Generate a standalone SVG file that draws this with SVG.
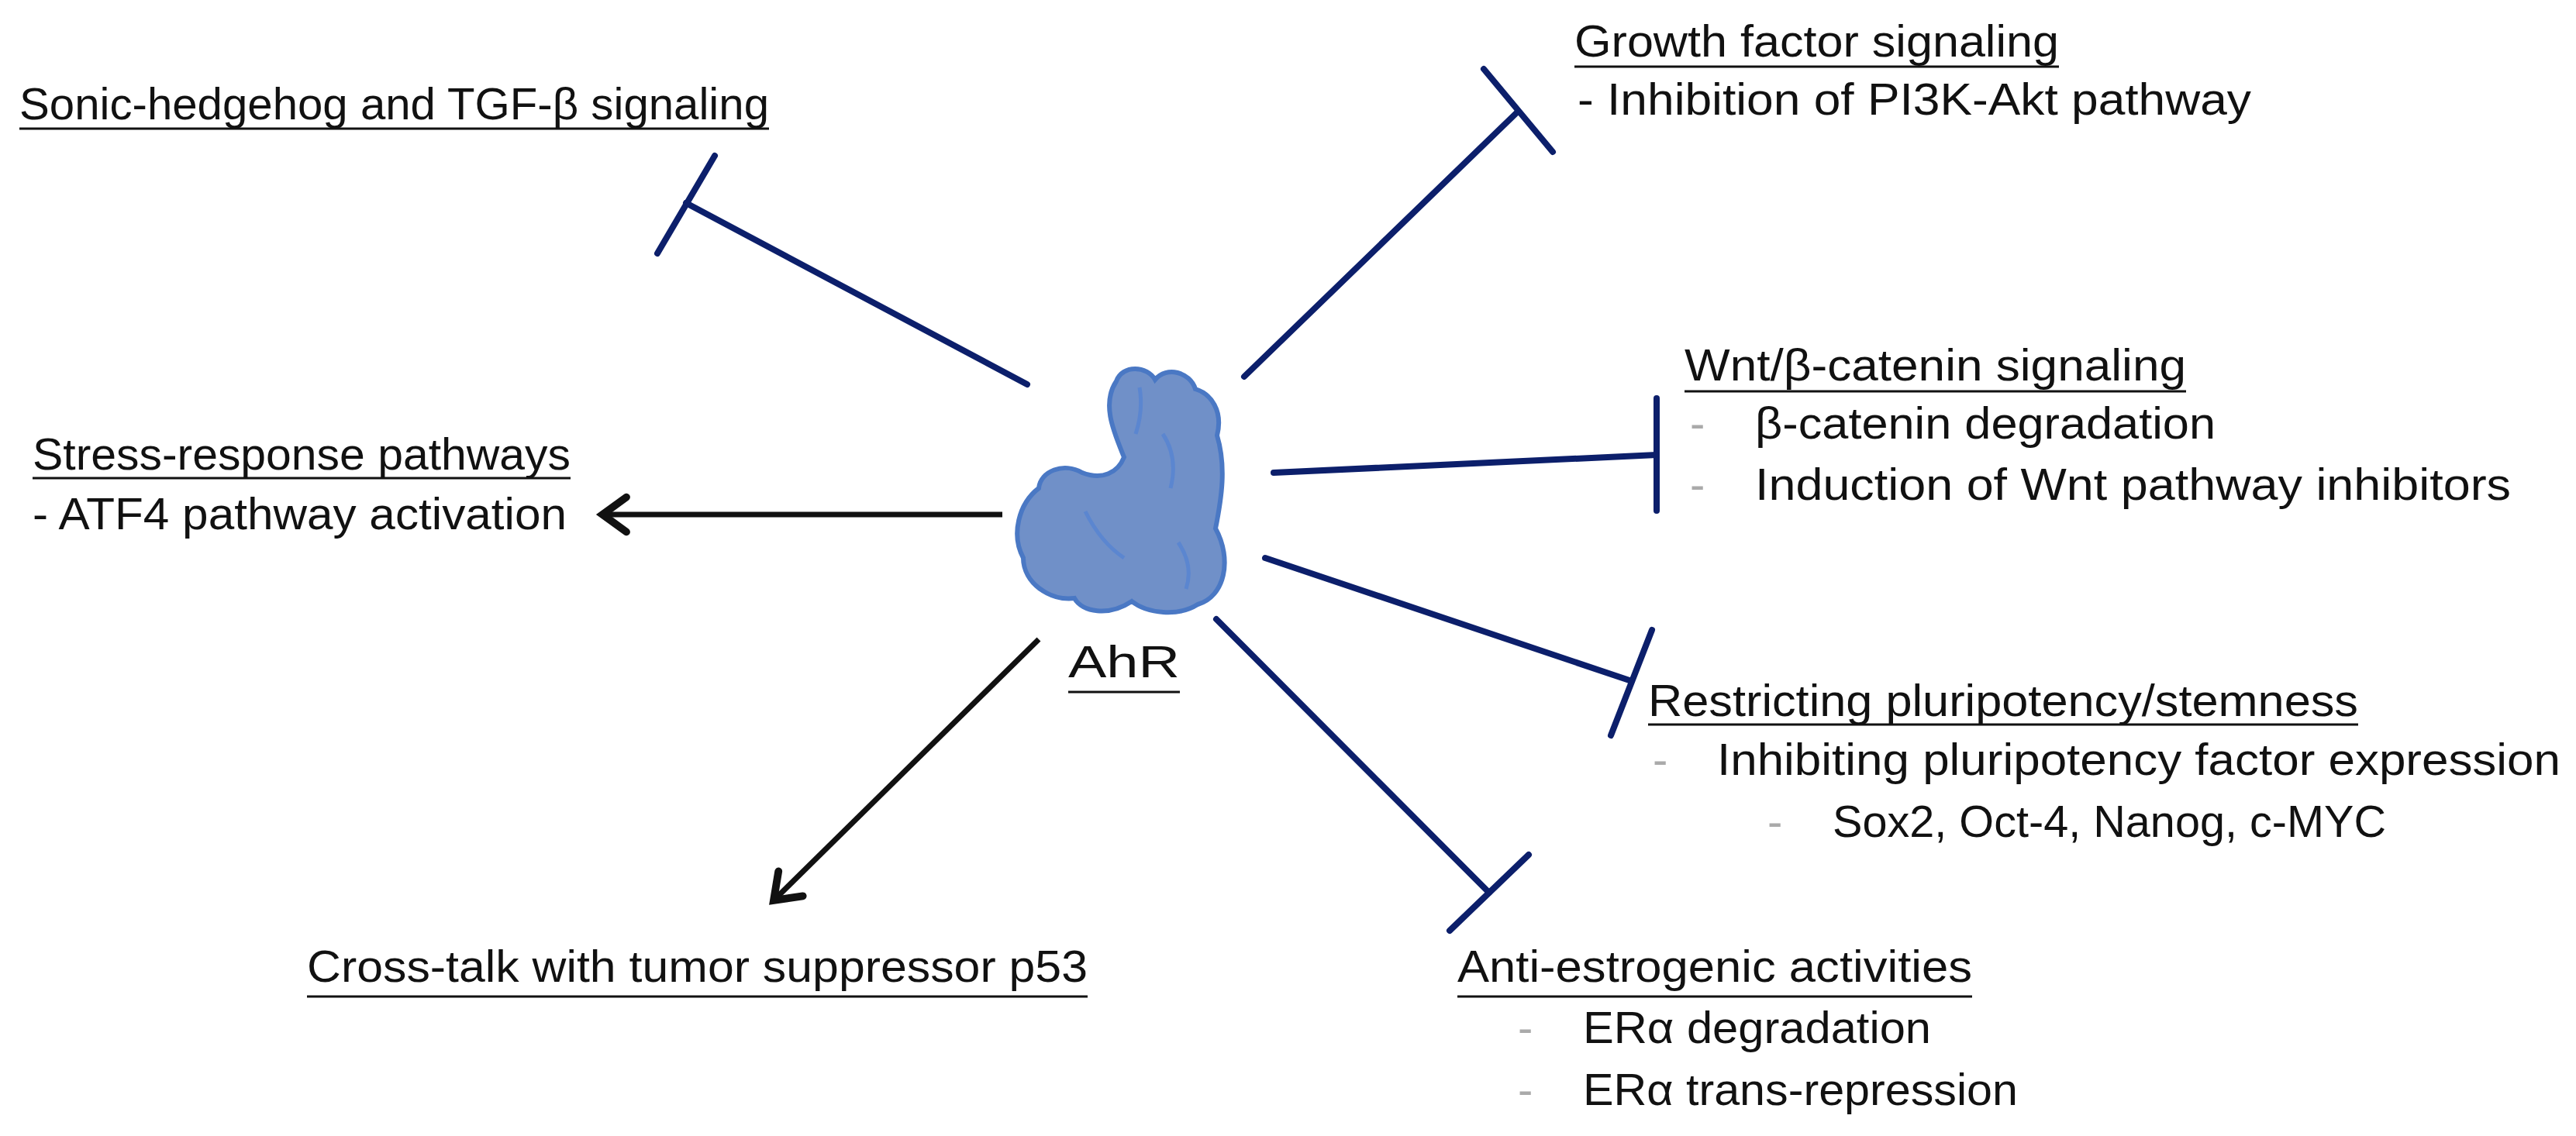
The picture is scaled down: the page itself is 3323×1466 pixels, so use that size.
<svg xmlns="http://www.w3.org/2000/svg" width="3323" height="1466" viewBox="0 0 3323 1466">
<style>
text{font-family:"Liberation Sans",Arial,sans-serif;font-size:58px;fill:#111}
.u{stroke:#111;stroke-width:3}
.inh{stroke:#0c1f6b;stroke-width:8;stroke-linecap:round;fill:none}
.act{stroke:#111;stroke-width:7;fill:none}
.d{fill:#aaa}
</style>
<defs>
<marker id="ah" viewBox="0 0 20 20" refX="13" refY="10" markerWidth="8" markerHeight="8" markerUnits="strokeWidth" orient="auto">
<path d="M3 2 L14 10 L3 18" fill="none" stroke="#111" stroke-width="3.5" stroke-linecap="round"/>
</marker>
</defs>
<rect width="3323" height="1466" fill="#fff"/>
<g id="connectors">
<line class="inh" x1="1325" y1="496" x2="885" y2="262"/><line class="inh" x1="922" y1="201" x2="848" y2="327"/>
<line class="inh" x1="1605" y1="486" x2="1958" y2="144"/><line class="inh" x1="1914" y1="89" x2="2003" y2="196"/>
<line class="inh" x1="1643" y1="610" x2="2137" y2="587"/><line class="inh" x1="2137" y1="514" x2="2137" y2="659"/>
<line class="inh" x1="1632" y1="720" x2="2105" y2="879"/><line class="inh" x1="2131" y1="813" x2="2078" y2="949"/>
<line class="inh" x1="1569" y1="799" x2="1921" y2="1152"/><line class="inh" x1="1972" y1="1103" x2="1870" y2="1201"/>
<line class="act" x1="1293" y1="664" x2="780" y2="664" marker-end="url(#ah)"/>
<line class="act" x1="1340" y1="825" x2="1000" y2="1160" marker-end="url(#ah)"/>
</g>
<g id="ahr">
<path d="M1440 492 C1448 470,1480 472,1490 490 C1505 472,1535 480,1542 502 C1562 508,1578 530,1570 562 C1582 602,1576 642,1568 682 C1590 722,1580 770,1545 780 C1520 796,1480 792,1460 776 C1430 796,1396 790,1386 772 C1354 776,1320 752,1320 720 C1304 690,1314 650,1340 630 C1342 608,1372 596,1396 610 C1422 620,1442 610,1450 590 C1438 560,1420 522,1440 492 Z" fill="#7090c8" stroke="#4a78c4" stroke-width="6"/>
<path d="M1470 500 Q1475 530 1465 560 M1500 560 Q1520 590 1510 630 M1400 660 Q1420 700 1450 720 M1520 700 Q1540 730 1530 760" stroke="#5b86d0" stroke-width="5" fill="none"/>
<text x="1378" y="874" font-size="78" textLength="144" lengthAdjust="spacingAndGlyphs">AhR</text>
<line class="u" x1="1378" y1="893" x2="1522" y2="893"/>
</g>
<g id="sonic">
<text x="25" y="154" textLength="967" lengthAdjust="spacingAndGlyphs">Sonic-hedgehog and TGF-β signaling</text>
<line class="u" x1="25" y1="166" x2="992" y2="166"/>
</g>
<g id="growth">
<text x="2031" y="73" textLength="625" lengthAdjust="spacingAndGlyphs">Growth factor signaling</text>
<line class="u" x1="2031" y1="86" x2="2656" y2="86"/>
<text x="2035" y="148" textLength="869" lengthAdjust="spacingAndGlyphs">-  Inhibition of PI3K-Akt pathway</text>
</g>
<g id="wnt">
<text x="2173" y="491" textLength="647" lengthAdjust="spacingAndGlyphs">Wnt/β-catenin signaling</text>
<line class="u" x1="2173" y1="505" x2="2820" y2="505"/>
<text class="d" x="2180" y="566">-</text>
<text x="2264" y="566" textLength="594" lengthAdjust="spacingAndGlyphs">β-catenin degradation</text>
<text class="d" x="2180" y="645">-</text>
<text x="2264" y="645" textLength="975" lengthAdjust="spacingAndGlyphs">Induction of Wnt pathway inhibitors</text>
</g>
<g id="stress">
<text x="42" y="606" textLength="694" lengthAdjust="spacingAndGlyphs">Stress-response pathways</text>
<line class="u" x1="42" y1="617" x2="736" y2="617"/>
<text x="42" y="683" textLength="689" lengthAdjust="spacingAndGlyphs">- ATF4 pathway activation</text>
</g>
<g id="restricting">
<text x="2126" y="924" textLength="916" lengthAdjust="spacingAndGlyphs">Restricting pluripotency/stemness</text>
<line class="u" x1="2126" y1="935" x2="3042" y2="935"/>
<text class="d" x="2132" y="1000">-</text>
<text x="2215" y="1000" textLength="1088" lengthAdjust="spacingAndGlyphs">Inhibiting pluripotency factor expression</text>
<text class="d" x="2280" y="1080">-</text>
<text x="2364" y="1080" textLength="714" lengthAdjust="spacingAndGlyphs">Sox2, Oct-4, Nanog, c-MYC</text>
</g>
<g id="anti">
<text x="1880" y="1267" textLength="664" lengthAdjust="spacingAndGlyphs">Anti-estrogenic activities</text>
<line class="u" x1="1880" y1="1286" x2="2544" y2="1286"/>
<text class="d" x="1958" y="1346">-</text>
<text x="2042" y="1346" textLength="449" lengthAdjust="spacingAndGlyphs">ERα degradation</text>
<text class="d" x="1958" y="1426">-</text>
<text x="2042" y="1426" textLength="561" lengthAdjust="spacingAndGlyphs">ERα trans-repression</text>
</g>
<g id="crosstalk">
<text x="396" y="1267" textLength="1007" lengthAdjust="spacingAndGlyphs">Cross-talk with tumor suppressor p53</text>
<line class="u" x1="396" y1="1286" x2="1403" y2="1286"/>
</g>
</svg>
